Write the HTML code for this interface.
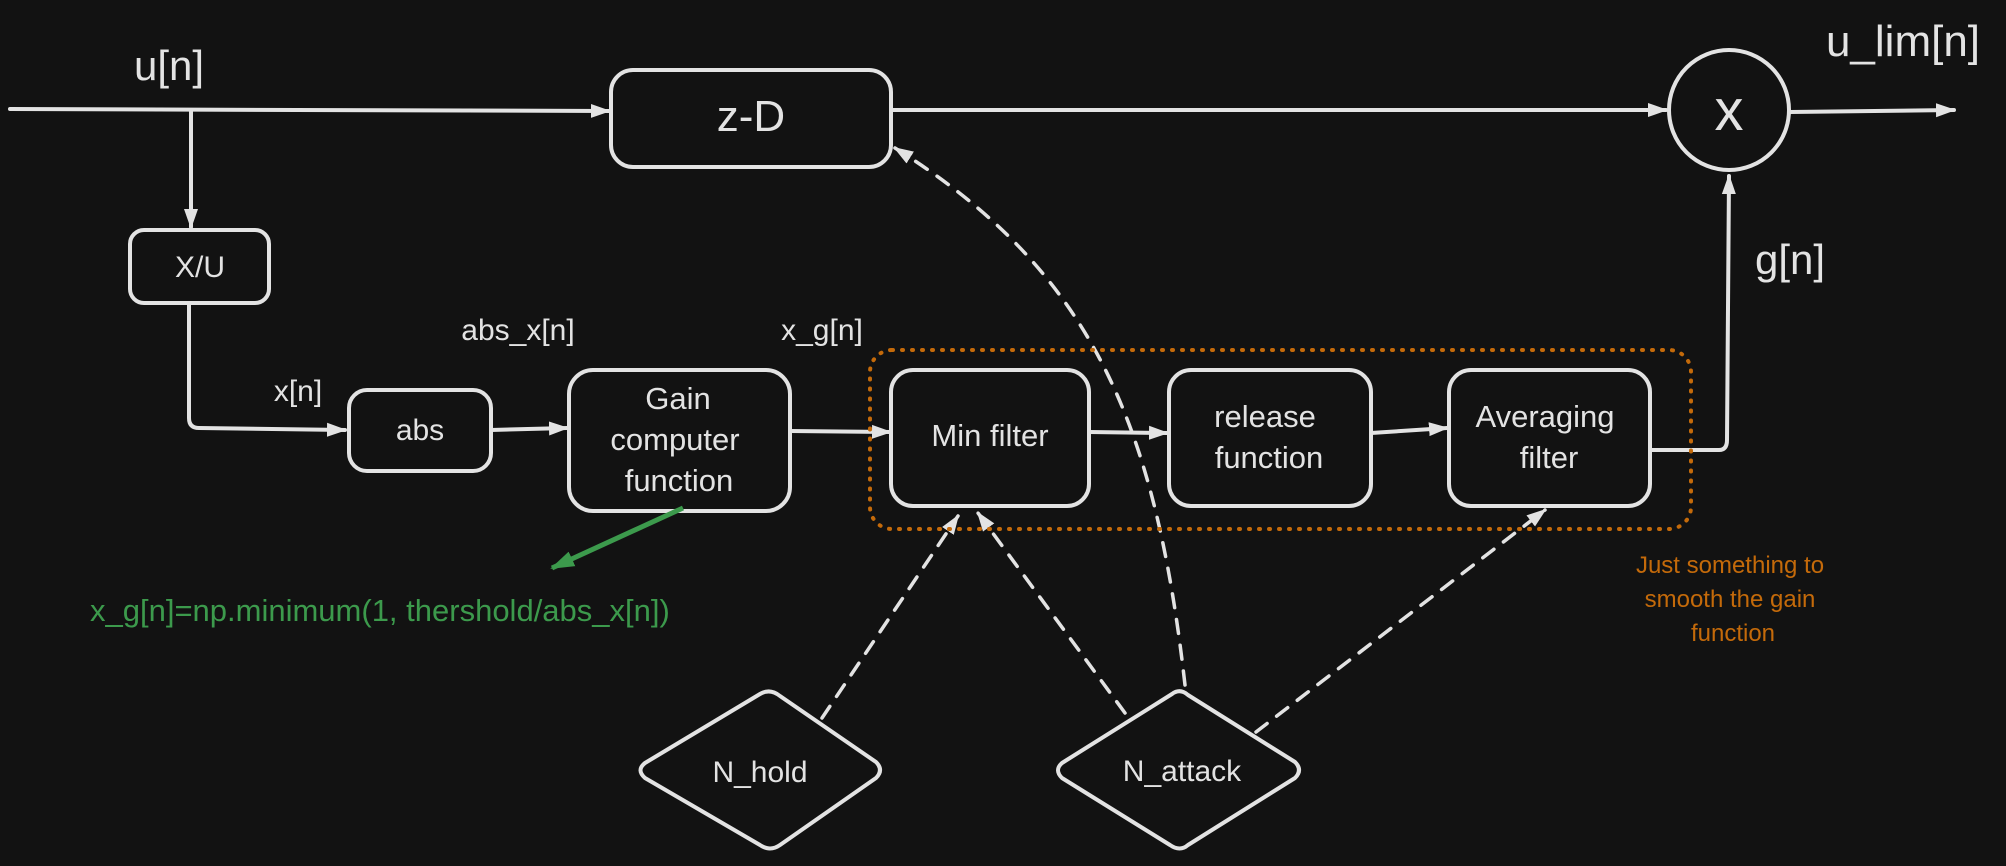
<!DOCTYPE html>
<html><head><meta charset="utf-8"><style>
html,body{margin:0;padding:0;background:#121212;}
svg{display:block;}
text{font-family:"Liberation Sans",sans-serif;fill:#e3e3e3;}
</style></head><body>
<svg width="2006" height="866" viewBox="0 0 2006 866" xmlns="http://www.w3.org/2000/svg">
<defs>
<marker id="a" viewBox="0 0 20 16" refX="18" refY="8" markerWidth="20" markerHeight="16" orient="auto" markerUnits="userSpaceOnUse">
<path d="M0,1 L20,8 L0,15 z" fill="#e3e3e3"/></marker>
<marker id="g" viewBox="0 0 24 18" refX="22" refY="9" markerWidth="24" markerHeight="18" orient="auto" markerUnits="userSpaceOnUse">
<path d="M0,1 L24,9 L0,17 z" fill="#3c9a4c"/></marker>
</defs>
<rect width="2006" height="866" fill="#121212"/>
<g fill="none" stroke="#e3e3e3" stroke-width="4" stroke-linecap="round" stroke-linejoin="round">
<path d="M10 109 L609 111" marker-end="url(#a)"/>
<path d="M891 110 L1666 110" marker-end="url(#a)"/>
<path d="M1790 112 L1954 110" marker-end="url(#a)"/>
<path d="M191 111 L191 227" marker-end="url(#a)"/>
<path d="M189 305 L189 418 Q189 428 199 428 L345 430" marker-end="url(#a)"/>
<path d="M491 430 L567 428" marker-end="url(#a)"/>
<path d="M790 431 L890 432" marker-end="url(#a)"/>
<path d="M1089 432 L1167 433" marker-end="url(#a)"/>
<path d="M1371 433 L1447 428" marker-end="url(#a)"/>
<path d="M1650 450 L1719 450 Q1727 450 1727 440 L1729 176" marker-end="url(#a)"/>
<rect x="611" y="70" width="280" height="97" rx="22"/>
<rect x="130" y="230" width="139" height="73" rx="14"/>
<rect x="349" y="390" width="142" height="81" rx="18"/>
<rect x="569" y="370" width="221" height="141" rx="24"/>
<rect x="891" y="370" width="198" height="136" rx="22"/>
<rect x="1169" y="370" width="202" height="136" rx="22"/>
<rect x="1449" y="370" width="201" height="136" rx="22"/>
<circle cx="1729" cy="110" r="60"/>
<path d="M760 694 Q770 688 780 696 L876 762 Q884 770 876 778 L780 845 Q770 852 760 845 L645 778 Q636 770 645 763 Z"/>
<path d="M1172 694 Q1180 688 1188 695 L1295 762 Q1303 770 1295 778 L1188 845 Q1180 852 1170 845 L1062 778 Q1054 770 1062 763 Z"/>
<g stroke-dasharray="14 12" stroke-width="3.5">
<path d="M822 718 L958 516" marker-end="url(#a)"/>
<path d="M1125 713 L978 513" marker-end="url(#a)"/>
<path d="M1185 685 C1155 420 1090 270 895 148" marker-end="url(#a)"/>
<path d="M1256 732 L1545 510" marker-end="url(#a)"/>
</g>
</g>
<rect x="870" y="350" width="821" height="179" rx="22" fill="none" stroke="#c46a0a" stroke-width="4" stroke-dasharray="1 9" stroke-linecap="round"/>
<path d="M683 508 L552 568" stroke="#3c9a4c" stroke-width="5" fill="none" marker-end="url(#g)"/>
<text x="169" y="80" font-size="42" text-anchor="middle">u[n]</text>
<text x="1903" y="56" font-size="44" text-anchor="middle">u_lim[n]</text>
<text x="1790" y="274" font-size="42" text-anchor="middle">g[n]</text>
<text x="751" y="131" font-size="44" text-anchor="middle">z-D</text>
<text x="1729" y="130" font-size="58" text-anchor="middle">x</text>
<text x="200" y="277" font-size="30" text-anchor="middle">X/U</text>
<text x="298" y="401" font-size="30" text-anchor="middle">x[n]</text>
<text x="518" y="340" font-size="30" text-anchor="middle">abs_x[n]</text>
<text x="822" y="340" font-size="30" text-anchor="middle">x_g[n]</text>
<text x="420" y="440" font-size="30" text-anchor="middle">abs</text>
<text x="678" y="409" font-size="31" text-anchor="middle">Gain</text>
<text x="675" y="450" font-size="31" text-anchor="middle">computer</text>
<text x="679" y="491" font-size="31" text-anchor="middle">function</text>
<text x="990" y="446" font-size="31" text-anchor="middle">Min filter</text>
<text x="1265" y="427" font-size="31" text-anchor="middle">release</text>
<text x="1269" y="468" font-size="31" text-anchor="middle">function</text>
<text x="1545" y="427" font-size="31" text-anchor="middle">Averaging</text>
<text x="1549" y="468" font-size="31" text-anchor="middle">filter</text>
<text x="760" y="782" font-size="30" text-anchor="middle">N_hold</text>
<text x="1182" y="781" font-size="30" text-anchor="middle">N_attack</text>
<text x="90" y="621" font-size="31" style="fill:#3c9a4c">x_g[n]=np.minimum(1, thershold/abs_x[n])</text>
<g font-size="24" text-anchor="middle">
<text x="1730" y="573" style="fill:#c46a0a">Just something to</text>
<text x="1730" y="607" style="fill:#c46a0a">smooth the gain</text>
<text x="1733" y="641" style="fill:#c46a0a">function</text>
</g>
</svg>
</body></html>
